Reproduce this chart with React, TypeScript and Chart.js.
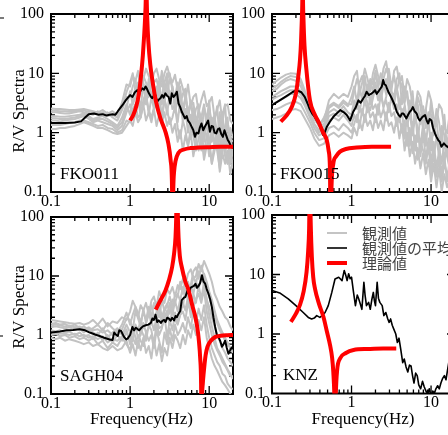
import React, { useEffect, useRef } from "react";
import { Chart, registerables } from "chart.js";

Chart.register(...registerables);

const SERIF = "'Liberation Serif', 'Times New Roman', 'DejaVu Serif', serif";
const CJK = "'Noto Sans CJK JP', 'Noto Sans', sans-serif";

// ---- axes / text ----
const X_MAJOR = [0.1, 1, 10];
const X_MAJOR_LABELS = ["0.1", "1", "10"];
const X_MINOR = [0.2, 0.3, 0.4, 0.5, 0.6, 0.7, 0.8, 0.9, 2, 3, 4, 5, 6, 7, 8, 9, 20];
const Y_MAJOR = [0.1, 1, 10, 100];
const Y_MAJOR_LABELS = ["0.1", "1", "10", "100"];
const Y_MINOR = [0.2, 0.3, 0.4, 0.5, 0.6, 0.7, 0.8, 0.9, 2, 3, 4, 5, 6, 7, 8, 9, 20, 30, 40, 50, 60, 70, 80, 90];
const X_TITLE = "Frequency(Hz)";
const Y_TITLE = "R/V Spectra";
const LEGEND_LABELS = ["観測値", "観測値の平均", "理論値"];
const STATIONS = ["FKO011", "FKO015", "SAGH04", "KNZ"];

// ---- shared frequency grid of the observed spectra ----
const FREQ = [0.1, 0.115, 0.13, 0.15, 0.17, 0.2, 0.23, 0.26, 0.3, 0.34, 0.39, 0.45, 0.52, 0.6, 0.69, 0.79, 0.9,
  1.0, 1.08, 1.17, 1.26, 1.36, 1.47, 1.59, 1.72, 1.86, 2.0, 2.16, 2.33, 2.52, 2.72, 2.94, 3.17, 3.43, 3.7,
  4.0, 4.3, 4.65, 5.0, 5.4, 5.85, 6.3, 6.8, 7.35, 7.95, 8.6, 9.3, 10, 10.8, 11.7, 12.6, 13.6, 14.7, 15.9, 17.1, 18.5, 20];

// ---- FKO011 ----
const P1_OBS = [
  [2.55, 2.5, 2.5, 2.45, 2.4, 2.4, 2.45, 2.5, 2.4, 2.3, 2.2, 2.4, 2.1, 2.3, 2.0, 3.2, 6.5,
    6, 9, 7.5, 11, 5, 8, 12, 9, 6.5, 10, 12, 8, 6, 10, 13, 9, 7, 9.5, 5, 8, 5.5, 3.5, 6.5, 2.8, 4, 4.5, 2.2, 3.5, 5, 2.8, 3.2, 4, 1.8, 2.4, 3.5, 1.5, 2.8, 3, 1.6, 1.4],
  [2.2, 2.2, 2.15, 2.1, 2.1, 2.2, 2.3, 2.2, 2.1, 2.0, 2.3, 2.0, 2.2, 1.8, 1.6, 2.4, 4.0,
    4, 6, 8, 3.5, 5, 9, 7, 4, 8, 5.5, 4, 6, 9, 3.5, 8, 10, 5, 4, 7, 3, 4.5, 5.5, 2, 3.5, 1.5, 2.5, 3, 0.8, 2.8, 1.6, 3.5, 0.9, 1.5, 2.8, 0.7, 2, 3, 0.6, 1.2, 0.8],
  [1.9, 1.9, 1.85, 1.85, 1.9, 1.95, 2.0, 2.1, 1.9, 1.7, 1.8, 1.9, 1.7, 1.5, 1.3, 1.8, 3.0,
    2, 3.5, 6, 4.5, 2.5, 7, 3, 5, 9, 3, 6, 2.5, 4, 7, 10, 3, 6, 2.2, 3.5, 6, 2, 3.8, 2.5, 1.2, 2.8, 1, 2.2, 1.4, 0.7, 2, 0.5, 1.8, 1.2, 0.6, 2.2, 0.45, 1.3, 1.8, 0.3, 0.5],
  [1.6, 1.6, 1.55, 1.6, 1.65, 1.7, 1.8, 1.9, 1.7, 1.5, 1.6, 1.5, 1.4, 1.3, 1.1, 1.3, 2.2,
    3, 2, 2.6, 4, 1.8, 3.5, 5, 2, 4, 2.5, 3.5, 5, 1.8, 4, 2, 5, 2.5, 3, 1.5, 3.5, 1.5, 2.5, 1, 2, 1.4, 0.7, 1.6, 0.5, 1.2, 0.9, 0.4, 1.5, 0.6, 1.2, 0.35, 1, 0.6, 0.3, 0.9, 0.4],
  [1.35, 1.35, 1.35, 1.4, 1.45, 1.5, 1.6, 1.6, 1.5, 1.4, 1.3, 1.35, 1.2, 1.15, 1.0, 1.1, 1.6,
    1.5, 2.5, 3, 1.8, 2, 2.8, 4, 2.4, 1.8, 2.6, 3, 2, 1.6, 3.5, 2.5, 1.4, 1.8, 2.8, 1.2, 0.8, 1.6, 1.1, 0.6, 1.2, 0.9, 0.5, 0.8, 1.2, 0.45, 0.9, 0.6, 0.3, 0.7, 0.5, 0.25, 0.9, 0.4, 0.3, 0.6, 0.25],
  [1.15, 1.15, 1.2, 1.2, 1.25, 1.3, 1.4, 1.5, 1.4, 1.3, 1.2, 1.2, 1.1, 1.0, 0.95, 1.0, 1.3,
    1.6, 1.3, 2.2, 1.5, 1.8, 3, 1.6, 2.2, 1.5, 2.5, 1.3, 2, 1.4, 2.2, 1.3, 1.8, 1.0, 1.4, 0.7, 1.1, 0.5, 0.9, 0.6, 1.0, 0.4, 0.7, 0.5, 0.9, 0.35, 0.6, 0.8, 0.3, 0.5, 0.7, 0.22, 0.45, 0.3, 0.5, 0.2, 0.35],
  [1.75, 1.75, 1.7, 1.7, 1.75, 1.8, 1.9, 2.0, 1.8, 1.6, 1.7, 1.7, 1.55, 1.4, 1.2, 1.5, 2.6,
    5, 3, 4, 7, 4.5, 6, 3.5, 8, 4, 6, 5, 7.5, 3, 5, 8, 4, 5.5, 3, 4.5, 2.2, 3, 1.8, 2.6, 1.3, 2, 1.6, 1, 1.8, 0.8, 1.4, 1.8, 0.7, 1.2, 1, 0.45, 1.6, 0.5, 0.8, 0.4, 0.45],
  [2.35, 2.35, 2.3, 2.3, 2.25, 2.3, 2.35, 2.35, 2.25, 2.15, 2.05, 2.2, 1.9, 2.0, 1.8, 2.6, 4.8,
    7, 10, 5, 6, 9, 6.5, 4.5, 7, 11, 7, 8, 5, 11, 6, 4.5, 8, 6, 3.5, 6, 4.5, 2.5, 4, 2, 2.8, 3.2, 1.5, 2.4, 1.8, 3, 1.2, 2.6, 1.4, 2, 0.9, 1.6, 2.2, 0.7, 1.5, 0.8, 0.7],
];
const P1_MEAN_F = [0.1, 0.15, 0.2, 0.24, 0.27, 0.3, 0.35, 0.4, 0.45, 0.5, 0.55, 0.6, 0.65, 0.7, 0.8, 0.88, 1.0, 1.07, 1.15, 1.23,
  1.3, 1.42, 1.5, 1.57, 1.62, 1.73, 1.82, 1.9, 2.0, 2.09, 2.19, 2.3, 2.42, 2.54, 2.65, 2.79, 2.93, 3.07, 3.22, 3.37,
  3.55, 3.71, 3.9, 4.1, 4.3, 4.5, 4.7, 4.94, 5.2, 5.4, 5.7, 6.0, 6.3, 6.6, 6.9, 7.3, 7.6, 8.0, 8.4, 8.8,
  9.2, 9.7, 10.2, 10.7, 11.2, 11.7, 12.3, 12.9, 13.5, 14.2, 14.9, 15.6, 16.4, 17.2, 18, 18.9, 20];
const P1_MEAN_V = [1.45, 1.45, 1.48, 1.55, 1.8, 2.05, 2.1, 2.0, 2.05, 1.95, 2.0, 2.05, 2.0, 2.3, 2.9, 3.5, 4.3, 4.0, 4.8, 5.2,
  4.6, 5.6, 5.3, 6.0, 5.6, 4.6, 4.1, 3.8, 4.2, 4.3, 3.3, 3.6, 3.8, 4.3, 3.9, 4.6, 4.2, 4.0, 3.1, 4.6,
  4.0, 4.3, 4.9, 3.1, 2.7, 2.25, 2.0, 1.74, 1.9, 1.6, 1.45, 1.26, 1.1, 0.85, 1.0, 0.97, 1.2, 1.43, 1.1, 1.26,
  1.4, 1.6, 1.04, 1.3, 1.26, 1.0, 0.97, 1.15, 1.18, 0.95, 0.85, 1.1, 0.9, 0.75, 0.68, 0.58, 0.55];
const P1_THEO_F = [1.0, 1.1, 1.19, 1.28, 1.37, 1.45, 1.5, 1.55, 1.58, 1.6, 1.62, 1.65, 1.7, 1.8, 1.95, 2.11, 2.4, 2.82, 3.05, 3.25,
  3.38, 3.45, 3.52, 3.6, 3.75, 4.1, 4.8, 5.8, 7.3, 10, 14, 20];
const P1_THEO_V = [1.6, 2.0, 2.7, 4.2, 8.7, 20, 40, 90, 200, 1000, 200, 80, 35, 14, 6.5, 3.5, 1.8, 1.0, 0.65, 0.35,
  0.15, 0.02, 0.12, 0.22, 0.33, 0.46, 0.52, 0.55, 0.56, 0.57, 0.58, 0.58];

// ---- FKO015 ----
const P2_OBS = [
  [6.5, 7.5, 8.5, 9.5, 10, 9.8, 8, 5, 3, 2, 1.4, 1.6, 3.5, 4.5, 3.8, 4.5, 4,
    6, 9, 11, 4.5, 7, 12, 8, 5, 10, 14, 9, 6, 12, 16, 8, 5, 11, 13, 7, 9, 4, 8, 6, 3, 2.5, 5, 4, 2, 2.5, 5, 3.5, 1.8, 1.5, 3, 2.5, 1.2, 1, 2, 1.5, 0.8],
  [5, 5.5, 6.5, 7.5, 8, 7.5, 6, 4, 2.5, 1.7, 1.3, 1.8, 2.8, 3.2, 2.8, 3.5, 3,
    3, 5, 8, 6, 3.5, 9, 4, 7, 5, 10, 6, 4, 8, 12, 9, 5, 4, 8, 10, 3, 6, 4, 2, 5, 1.5, 4, 2.8, 1.2, 2.5, 1.2, 3.5, 1, 2.5, 1.5, 0.7, 2, 0.5, 1.5, 0.4, 0.8],
  [4, 4.5, 5, 5.5, 6, 6, 5, 3.5, 2.2, 1.4, 1.1, 1.3, 2.2, 2.5, 2.2, 2.8, 2.2,
    2, 3.5, 2.5, 5, 4, 3, 6.5, 3, 5, 7, 4, 3.5, 6, 8, 5, 4, 3.5, 6, 2.5, 4.5, 3, 1.5, 3.5, 1, 2.5, 0.7, 2, 1.2, 0.6, 1.8, 0.5, 1.5, 0.8, 0.4, 1.2, 0.3, 0.8, 0.6, 0.2, 0.4],
  [3, 3.3, 3.6, 4, 4.5, 4.5, 3.8, 2.8, 1.8, 1.2, 0.9, 1.0, 1.6, 1.8, 1.6, 2.0, 1.6,
    1.3, 2, 1.5, 2.8, 2, 3.5, 2.2, 4, 2.5, 3, 2, 4.5, 2.8, 3.5, 2.2, 4, 2.5, 3, 1.5, 2.5, 0.8, 2, 0.6, 1.5, 0.5, 1.2, 0.4, 1, 0.35, 0.8, 0.3, 0.7, 0.25, 0.5, 0.2, 0.4, 0.15, 0.35, 0.2, 0.25],
  [2.4, 2.5, 2.7, 3, 3.2, 3.3, 3, 2.2, 1.5, 1.0, 0.75, 0.8, 1.2, 1.3, 1.1, 1.4, 1.2,
    1, 1.4, 2, 1.2, 2.5, 1.5, 3, 1.8, 2.2, 1.5, 3, 1.8, 2.5, 1.6, 3.2, 1.9, 2.2, 1.3, 2, 1, 1.6, 0.6, 1.2, 0.45, 0.9, 0.35, 0.7, 0.5, 0.3, 0.6, 0.2, 0.45, 0.18, 0.35, 0.15, 0.3, 0.2, 0.25, 0.15, 0.2],
  [1.7, 1.8, 1.9, 2.1, 2.4, 2.5, 2.3, 1.7, 1.2, 0.8, 0.6, 0.65, 0.9, 1.0, 0.85, 1.0, 0.9,
    0.8, 1.2, 0.9, 1.6, 1.1, 2, 1.3, 1.6, 1.1, 2, 1.2, 1.6, 1.1, 2.2, 1.3, 1.5, 1, 1.8, 0.8, 1.4, 0.5, 1, 0.4, 0.7, 0.3, 0.55, 0.25, 0.45, 0.2, 0.35, 0.15, 0.3, 0.12, 0.25, 0.1, 0.2, 0.12, 0.16, 0.1, 0.14],
  [3.6, 4, 4.3, 4.8, 5.2, 5.2, 4.4, 3.2, 2.1, 1.4, 1.0, 1.15, 1.9, 2.1, 1.9, 2.4, 1.9,
    1.8, 2.6, 3.5, 2.2, 4, 5, 3, 2.4, 3.8, 6, 3.5, 5, 2.6, 4, 7, 4.5, 3, 5.5, 3.5, 2, 2.8, 1.3, 2.2, 0.9, 1.8, 1.2, 0.6, 1.4, 0.8, 0.5, 1.0, 0.4, 0.8, 0.6, 0.3, 0.7, 0.4, 0.25, 0.5, 0.3],
  [5.5, 6.2, 7.2, 8.2, 9, 8.7, 7, 4.5, 2.8, 1.8, 1.3, 1.4, 2.6, 3, 2.6, 3.2, 2.8,
    4, 6, 3.2, 7, 9, 5, 4, 8, 6.5, 11, 6, 10, 7, 4.5, 12, 6, 9, 5, 8, 6, 3.2, 5, 2.2, 3.5, 1.8, 3, 1.4, 2.8, 1.2, 2.2, 2, 0.9, 1.7, 0.6, 1.3, 0.9, 0.4, 1, 0.5, 0.4],
];
const P2_MEAN_F = [0.1, 0.125, 0.159, 0.18, 0.203, 0.234, 0.258, 0.28, 0.298, 0.32, 0.345, 0.37, 0.399, 0.42, 0.44, 0.46, 0.49, 0.53, 0.59, 0.65,
  0.72, 0.8, 0.87, 0.96, 1.05, 1.12, 1.22, 1.3, 1.41, 1.48, 1.55, 1.65, 1.8, 1.9, 1.98, 2.07, 2.17, 2.3, 2.4, 2.5,
  2.6, 2.7, 2.8, 2.9, 3.05, 3.2, 3.35, 3.5, 3.7, 3.9, 4.1, 4.3, 4.5, 4.7, 4.9, 5.15, 5.4, 5.65, 5.9, 6.2,
  6.6, 6.9, 7.2, 7.8, 8.4, 8.8, 9.2, 9.6, 10.1, 10.6, 11.2, 11.7, 12.3, 12.9, 13.5, 14.5, 15.5, 17, 18.5, 20];
const P2_MEAN_V = [2.9, 3.5, 4.3, 4.8, 5.2, 4.8, 4.0, 3.1, 2.5, 2.1, 1.84, 1.55, 1.33, 1.1, 0.91, 1.0, 1.26, 1.5, 1.85, 2.1,
  2.4, 2.2, 1.98, 1.6, 2.25, 2.6, 3.5, 3.2, 3.8, 4.2, 4.9, 4.3, 4.6, 4.9, 5.2, 4.5, 4.9, 5.5, 5.95, 7.7,
  6.5, 6.3, 5.5, 4.9, 4.3, 3.8, 3.3, 2.9, 2.25, 2.0, 1.85, 2.1, 2.1, 1.9, 1.74, 2.0, 2.25, 2.4, 2.7, 2.3,
  2.1, 1.75, 1.6, 1.85, 1.98, 1.6, 1.43, 1.7, 1.6, 1.2, 0.97, 0.85, 0.75, 0.7, 0.58, 0.66, 0.6, 0.55, 0.6, 0.58];
const P2_THEO_F = [0.129, 0.15, 0.177, 0.2, 0.214, 0.225, 0.232, 0.237, 0.241, 0.243, 0.245, 0.249, 0.256, 0.27, 0.3,
  0.34, 0.383, 0.44, 0.488, 0.515, 0.535, 0.547, 0.56, 0.59, 0.64, 0.716, 0.85, 1.16, 1.8, 3.14];
const P2_THEO_V = [1.53, 1.9, 2.7, 4.6, 8.8, 17, 35, 80, 200, 1000, 200, 80, 30, 12, 3.5,
  2.1, 1.53, 1.0, 0.75, 0.5, 0.25, 0.02, 0.12, 0.3, 0.4, 0.48, 0.53, 0.56, 0.58, 0.58];

// ---- SAGH04 ----
const P3_OBS = [
  [1.8, 1.75, 1.7, 1.65, 1.6, 1.55, 1.6, 1.5, 1.6, 1.8, 1.5, 1.9, 1.4, 1.7, 1.6, 2.0, 1.8,
    2.5, 3.8, 3, 2, 3.2, 2.6, 3.5, 2.2, 3.8, 4.5, 3, 5.5, 4, 3.5, 6, 5, 6.5, 4.5, 7, 6, 9, 7, 11, 13, 9, 10, 16, 12, 18, 14, 11, 8, 5, 4, 3, 2.5, 2, 1.8, 1.4, 1.2],
  [1.55, 1.6, 1.5, 1.55, 1.4, 1.5, 1.3, 1.4, 1.2, 1.3, 1.5, 1.2, 1.6, 1.3, 1.1, 1.5, 2.4,
    1.5, 2.2, 3, 2.4, 1.6, 2.5, 1.8, 3, 2, 3.5, 2.6, 2, 4, 2.5, 3.2, 4.5, 2.8, 5, 4.5, 8, 5, 9, 6, 7, 12, 14, 9, 15, 10, 6, 4.5, 3, 2, 1.6, 1.2, 1, 0.8, 0.7, 0.6, 0.5],
  [1.35, 1.4, 1.35, 1.3, 1.35, 1.25, 1.3, 1.1, 1.3, 1.1, 1.0, 1.3, 0.9, 1.1, 1.3, 1.0, 1.5,
    1.1, 0.8, 1.5, 1.2, 1.8, 1.3, 1.6, 2.5, 1.5, 2.2, 1.7, 2.8, 1.6, 2.4, 2, 3.5, 2.2, 3.8, 2.5, 4, 3, 6, 4, 7, 5, 8, 6, 10, 7, 4, 3, 2, 1.4, 1, 0.8, 0.6, 0.5, 0.4, 0.35, 0.3],
  [1.2, 1.15, 1.2, 1.1, 1.15, 1.0, 1.1, 0.95, 1.0, 0.85, 1.1, 0.8, 1.0, 0.75, 1.0, 0.8, 1.1,
    0.8, 1.2, 1.4, 0.9, 1, 1.6, 1.1, 1.3, 1.8, 1.2, 2, 1.3, 1.4, 1.9, 2.6, 1.5, 2.8, 1.8, 1.5, 2.2, 2.5, 1.8, 3.5, 2.5, 3, 4, 5, 3.5, 6, 2.5, 1.6, 1, 0.7, 0.55, 0.45, 0.35, 0.3, 0.25, 0.2, 0.2],
  [1.0, 1.05, 0.95, 1.0, 0.9, 0.95, 0.85, 0.9, 0.8, 0.9, 0.7, 0.8, 0.6, 0.75, 0.65, 0.9, 0.7,
    0.55, 0.9, 0.7, 1, 0.8, 0.65, 1.1, 0.8, 1, 0.6, 1.2, 0.8, 0.5, 1.1, 0.7, 1.3, 0.8, 1.5, 1, 1.2, 1.6, 1.1, 2, 1.3, 2.5, 1.6, 2.8, 1.8, 3.2, 1.5, 0.9, 0.6, 0.45, 0.35, 0.3, 0.22, 0.2, 0.15, 0.13, 0.12],
  [0.9, 0.85, 0.9, 0.8, 0.85, 0.8, 0.75, 0.7, 0.75, 0.65, 0.7, 0.6, 0.55, 0.65, 0.55, 0.6, 0.8,
    0.5, 0.7, 0.45, 0.8, 0.55, 0.9, 0.5, 0.65, 0.4, 0.85, 0.45, 0.7, 0.36, 0.6, 0.45, 0.9, 0.6, 1, 0.8, 0.6, 1, 0.7, 1.2, 0.9, 1.5, 1, 1.8, 1.2, 2, 0.9, 0.6, 0.4, 0.3, 0.25, 0.2, 0.16, 0.14, 0.12, 0.1, 0.09],
  [1.45, 1.5, 1.45, 1.4, 1.45, 1.35, 1.4, 1.25, 1.35, 1.2, 1.25, 1.1, 1.2, 1.0, 1.2, 1.25, 1.9,
    1.8, 1.2, 2.6, 1.9, 1.4, 2.8, 1.6, 2.2, 3.2, 2, 2.4, 3.6, 2, 2.8, 3.4, 2.3, 4, 3.5, 5, 3.8, 6.5, 4.5, 8, 5.5, 10, 7.5, 12, 9, 11, 8, 5.5, 4, 2.6, 1.8, 1.4, 1.1, 0.9, 0.75, 0.6, 0.5],
  [1.1, 1.1, 1.05, 1.05, 1.0, 1.05, 0.95, 1.0, 0.9, 0.95, 0.85, 0.95, 0.75, 0.85, 0.8, 0.95, 1.25,
    0.7, 1.4, 0.9, 0.6, 1.3, 1.0, 0.8, 1.5, 1.2, 0.7, 1.6, 1.0, 1.3, 2.2, 0.9, 1.8, 1.2, 2.4, 1.6, 2.2, 3.5, 2.6, 4.5, 2, 5, 3.5, 7, 4, 8, 4, 2.2, 1.4, 0.9, 0.6, 0.5, 0.4, 0.32, 0.26, 0.22, 0.18],
];
const P3_MEAN_F = [0.1, 0.13, 0.157, 0.19, 0.23, 0.27, 0.31, 0.36, 0.41, 0.47, 0.55, 0.6, 0.63, 0.67, 0.7, 0.73, 0.77, 0.83, 0.89, 0.93,
  1.0, 1.07, 1.12, 1.18, 1.25, 1.3, 1.37, 1.45, 1.58, 1.7, 1.83, 1.91, 2.0, 2.1, 2.2, 2.3, 2.45, 2.56, 2.7, 2.8,
  2.95, 3.1, 3.25, 3.4, 3.6, 3.75, 3.9, 4.1, 4.3, 4.5, 4.8, 5.0, 5.3, 5.5, 5.8, 6.0, 6.4, 6.7, 7.0, 7.4,
  7.7, 8.1, 8.5, 8.9, 9.3, 9.8, 10.3, 10.8, 11.3, 11.9, 12.5, 13.1, 13.8, 14.5, 15.2, 15.9, 16.7, 17.5, 18.4, 19.2, 20];
const P3_MEAN_V = [1.1, 1.15, 1.2, 1.22, 1.25, 1.2, 1.1, 1.02, 0.96, 0.9, 0.84, 0.82, 1.1, 1.0, 0.96, 1.2, 1.17, 0.95, 0.84, 0.87,
  1.0, 1.37, 1.2, 1.33, 1.25, 1.2, 1.3, 1.4, 1.46, 1.5, 1.6, 1.9, 1.8, 2.2, 1.66, 1.77, 1.6, 1.73, 1.8, 1.66,
  1.96, 1.9, 1.75, 1.96, 1.77, 2.1, 2.0, 2.3, 2.55, 3.9, 4.3, 4.4, 5.6, 5.0, 6.3, 6.5, 6.8, 7.4, 6.3, 6.9,
  7.7, 10.3, 8.0, 7.4, 6.0, 5.0, 4.0, 3.0, 2.0, 1.37, 1.0, 0.93, 0.79, 0.63, 0.7, 0.8, 0.6, 0.48, 0.55, 0.61, 0.63];
const P3_THEO_F = [2.11, 2.4, 2.8, 3.1, 3.4, 3.6, 3.75, 3.83, 3.88, 3.92, 3.96, 4.02, 4.1, 4.25, 4.5, 5.0, 5.5, 6.1, 6.7, 7.1,
  7.4, 7.7, 7.9, 8.0, 8.1, 8.3, 8.5, 9.0, 9.5, 10.5, 12, 14, 17, 20];
const P3_THEO_V = [2.7, 3.8, 5.7, 8.5, 14.2, 24, 45, 100, 300, 1000, 300, 100, 45, 22, 14.2, 8.0, 5.7, 3.2, 2.0, 1.3,
  0.81, 0.4, 0.15, 0.02, 0.08, 0.15, 0.22, 0.45, 0.63, 0.8, 0.93, 0.97, 0.99, 1.0];

// ---- KNZ ----
const P4_MEAN_F = [0.1, 0.125, 0.16, 0.2, 0.247, 0.286, 0.315, 0.34, 0.365, 0.4, 0.43, 0.465, 0.51, 0.565, 0.62, 0.69, 0.76, 0.81, 0.85, 0.88,
  0.92, 0.96, 1.0, 1.06, 1.12, 1.18, 1.23, 1.29, 1.35, 1.43, 1.48, 1.54, 1.64, 1.72, 1.8, 1.88, 1.94, 2.0, 2.1, 2.18,
  2.27, 2.43, 2.55, 2.7, 2.85, 2.97, 3.1, 3.25, 3.4, 3.6, 3.77, 3.95, 4.15, 4.4, 4.6, 4.85, 5.1, 5.35, 5.6, 5.85,
  6.1, 6.4, 6.7, 7.0, 7.4, 7.8, 8.2, 8.6, 9.1, 9.5, 10, 10.5, 11, 11.5, 12.1, 12.7, 13.3, 14, 14.7, 15.4, 16.2, 17, 18, 19, 20];
const P4_MEAN_V = [5.4, 4.9, 3.9, 3.0, 2.3, 1.9, 1.79, 1.85, 2.04, 1.9, 2.05, 2.3, 3.0, 5.0, 8.4, 9.0, 7.9, 11.7, 9.5, 7.9,
  10.3, 8.5, 9.0, 5.0, 3.0, 4.5, 3.9, 3.2, 2.6, 7.4, 4.5, 3.0, 3.4, 2.6, 3.8, 5.0, 3.6, 3.0, 7.4, 4.0,
  3.4, 3.0, 2.04, 2.3, 1.8, 1.57, 1.79, 1.4, 1.21, 1.0, 0.72, 0.85, 0.56, 0.33, 0.38, 0.28, 0.23, 0.3, 0.29, 0.2,
  0.15, 0.22, 0.2, 0.14, 0.12, 0.16, 0.13, 0.11, 0.1, 0.12, 0.09, 0.11, 0.1, 0.12, 0.135, 0.12, 0.15, 0.18, 0.2, 0.17, 0.26, 0.38, 0.35, 0.45, 0.5];
const P4_THEO_F = [0.173, 0.2, 0.224, 0.25, 0.272, 0.285, 0.293, 0.297, 0.3, 0.303, 0.308, 0.317, 0.33, 0.347, 0.39,
  0.443, 0.49, 0.537, 0.57, 0.59, 0.61, 0.62, 0.635, 0.66, 0.72, 0.85, 1.06, 1.6, 2.5, 3.65];
const P4_THEO_V = [1.6, 2.2, 3.05, 5.2, 11, 25, 60, 200, 1000, 200, 60, 20, 9, 5.8, 3.2,
  1.95, 1.1, 0.65, 0.4, 0.23, 0.08, 0.02, 0.1, 0.25, 0.39, 0.48, 0.54, 0.56, 0.57, 0.57];

type Spec = {
  key: string;
  left: number; top: number; w: number; h: number;
  yW: number; xH: number; padTop: number; padRight: number;
  name: string; nameDx: number; nameY: number;
  obs: number[][] | null;
  meanF: number[]; meanV: number[]; meanW: number;
  theoF: number[]; theoV: number[]; theoClipTop: number;
  yTitle: null | { x: number; y: number };
  xTitleY: number | null;
  legend: boolean;
  dash: null | { y: number; len: number };
};

const SPECS: Spec[] = [
  { key: "p1", left: 0, top: 0, w: 240, h: 215, yW: 51, xH: 23, padTop: 14, padRight: 7,
    name: STATIONS[0], nameDx: 9, nameY: 175, obs: P1_OBS, meanF: P1_MEAN_F, meanV: P1_MEAN_V, meanW: 2,
    theoF: P1_THEO_F, theoV: P1_THEO_V, theoClipTop: 14, yTitle: { x: 24, y: 111 }, xTitleY: null, legend: false,
    dash: { y: 18, len: 4 } },
  { key: "p2", left: 230, top: 0, w: 240, h: 215, yW: 42, xH: 23, padTop: 14, padRight: 15,
    name: STATIONS[1], nameDx: 8, nameY: 175, obs: P2_OBS, meanF: P2_MEAN_F, meanV: P2_MEAN_V, meanW: 2,
    theoF: P2_THEO_F, theoV: P2_THEO_V, theoClipTop: 14, yTitle: null, xTitleY: null, legend: false, dash: null },
  { key: "p3", left: 0, top: 205, w: 240, h: 230, yW: 51, xH: 41, padTop: 12, padRight: 7,
    name: STATIONS[2], nameDx: 9, nameY: 172, obs: P3_OBS, meanF: P3_MEAN_F, meanV: P3_MEAN_V, meanW: 2,
    theoF: P3_THEO_F, theoV: P3_THEO_V, theoClipTop: 4, yTitle: { x: 24, y: 102 }, xTitleY: 219, legend: false,
    dash: { y: 131, len: 3 } },
  { key: "p4", left: 230, top: 205, w: 240, h: 230, yW: 42, xH: 41.5, padTop: 10, padRight: 15,
    name: STATIONS[3], nameDx: 11, nameY: 171, obs: null, meanF: P4_MEAN_F, meanV: P4_MEAN_V, meanW: 1.6,
    theoF: P4_THEO_F, theoV: P4_THEO_V, theoClipTop: 1, yTitle: null, xTitleY: 219, legend: true, dash: null },
];

function pts(f: number[], v: number[]) {
  return f.map((x, i) => ({ x, y: v[i] }));
}

function labelFor(v: number, majors: number[], labels: string[]) {
  const i = majors.findIndex((m) => Math.abs(v / m - 1) < 1e-6);
  return i >= 0 ? labels[i] : "";
}

function framePlugin(s: Spec) {
  return {
    id: "frame_" + s.key,
    beforeDatasetsDraw(chart: any) {
      const { ctx, chartArea } = chart;
      const { left, right, top, bottom } = chartArea;
      const xs = chart.scales.x;
      const ys = chart.scales.y;
      ctx.save();
      ctx.strokeStyle = "#000";
      ctx.lineWidth = 1.3;
      ctx.beginPath();
      const xt = (vals: number[], len: number) =>
        vals.forEach((v) => {
          const px = xs.getPixelForValue(v);
          if (px <= left + 1 || px >= right - 1) return;
          ctx.moveTo(px, bottom); ctx.lineTo(px, bottom - len);
          ctx.moveTo(px, top); ctx.lineTo(px, top + len);
        });
      const yt = (vals: number[], len: number) =>
        vals.forEach((v) => {
          const py = ys.getPixelForValue(v);
          if (py <= top + 1 || py >= bottom - 1) return;
          ctx.moveTo(left, py); ctx.lineTo(left + len, py);
          ctx.moveTo(right, py); ctx.lineTo(right - len, py);
        });
      xt(X_MAJOR, 8); xt(X_MINOR, 4);
      yt(Y_MAJOR, 8); yt(Y_MINOR, 4);
      ctx.stroke();
      ctx.lineWidth = 2;
      ctx.strokeRect(left, top, right - left, bottom - top);
      ctx.restore();
    },
    afterDatasetsDraw(chart: any) {
      const { ctx, chartArea } = chart;
      const { left, right } = chartArea;
      ctx.save();
      ctx.fillStyle = "#000";
      ctx.font = `17px ${SERIF}`;
      ctx.textAlign = "left";
      ctx.textBaseline = "middle";
      ctx.fillText(s.name, left + s.nameDx, s.nameY);
      if (s.xTitleY !== null) {
        ctx.textAlign = "center";
        ctx.textBaseline = "alphabetic";
        ctx.fillText(X_TITLE, (left + right) / 2 - 0.5, s.xTitleY);
      }
      if (s.yTitle) {
        ctx.save();
        ctx.translate(s.yTitle.x, s.yTitle.y);
        ctx.rotate(-Math.PI / 2);
        ctx.textAlign = "center";
        ctx.textBaseline = "alphabetic";
        ctx.fillText(Y_TITLE, 0, 0);
        ctx.restore();
      }
      if (s.dash) {
        ctx.strokeStyle = "#222";
        ctx.lineWidth = 1.2;
        ctx.beginPath();
        ctx.moveTo(0, s.dash.y);
        ctx.lineTo(s.dash.len, s.dash.y);
        ctx.stroke();
      }
      if (s.legend) {
        const items = [
          { c: "#c4c4c4", w: 2, y: 28 },
          { c: "#000000", w: 1.6, y: 43 },
          { c: "#ff0000", w: 4, y: 58 },
        ];
        items.forEach((it, i) => {
          ctx.strokeStyle = it.c;
          ctx.lineWidth = it.w;
          ctx.beginPath();
          ctx.moveTo(97, it.y);
          ctx.lineTo(117, it.y);
          ctx.stroke();
          ctx.fillStyle = "#444";
          ctx.font = `15px ${CJK}`;
          ctx.textAlign = "left";
          ctx.textBaseline = "middle";
          ctx.fillText(LEGEND_LABELS[i], 132, it.y);
        });
      }
      ctx.restore();
    },
  };
}

function buildConfig(s: Spec): any {
  const datasets: any[] = [];
  datasets.push({
    data: pts(s.theoF, s.theoV),
    borderColor: "#ff0000",
    borderWidth: 4,
    pointRadius: 0,
    cubicInterpolationMode: "monotone",
    borderJoinStyle: "round",
    clip: { left: 0, right: 0, top: s.theoClipTop, bottom: 0 },
  });
  datasets.push({
    data: pts(s.meanF, s.meanV),
    borderColor: "#000000",
    borderWidth: s.meanW,
    pointRadius: 0,
    tension: 0,
    borderJoinStyle: "round",
  });
  if (s.obs) {
    s.obs.forEach((vals) =>
      datasets.push({
        data: pts(FREQ, vals),
        borderColor: "#c2c2c2",
        borderWidth: 2,
        pointRadius: 0,
        tension: 0,
        borderJoinStyle: "round",
      })
    );
  }
  const tickFont = { family: SERIF, size: 16 };
  return {
    type: "line",
    data: { datasets },
    options: {
      responsive: false,
      animation: false,
      devicePixelRatio: 1,
      events: [],
      layout: { padding: { top: s.padTop, right: s.padRight, left: 0, bottom: 0 } },
      plugins: { legend: { display: false }, tooltip: { enabled: false } },
      scales: {
        x: {
          type: "logarithmic",
          min: 0.1,
          max: 20,
          grid: { display: false, drawTicks: false },
          border: { display: false },
          ticks: {
            autoSkip: false,
            maxRotation: 0,
            minRotation: 0,
            padding: 0,
            color: "#000",
            font: tickFont,
            callback: (v: any) => labelFor(Number(v), X_MAJOR, X_MAJOR_LABELS),
          },
          afterFit: (sc: any) => {
            sc.height = s.xH;
            sc.paddingLeft = 0;
            sc.paddingRight = 0;
          },
        },
        y: {
          type: "logarithmic",
          min: 0.1,
          max: 100,
          grid: { display: false, drawTicks: false },
          border: { display: false },
          ticks: {
            autoSkip: false,
            padding: 7,
            color: "#000",
            font: tickFont,
            callback: (v: any) => labelFor(Number(v), Y_MAJOR, Y_MAJOR_LABELS),
          },
          afterFit: (sc: any) => {
            sc.width = s.yW;
            sc.paddingTop = 0;
            sc.paddingBottom = 0;
          },
        },
      },
    },
    plugins: [framePlugin(s)],
  };
}

function Panel({ spec }: { spec: Spec }) {
  const ref = useRef<HTMLCanvasElement>(null);
  useEffect(() => {
    if (!ref.current) return;
    const chart = new Chart(ref.current, buildConfig(spec));
    return () => chart.destroy();
  }, [spec]);
  return (
    <canvas
      ref={ref}
      width={spec.w}
      height={spec.h}
      style={{ position: "absolute", left: spec.left, top: spec.top, width: spec.w, height: spec.h }}
    />
  );
}

export default function App() {
  return (
    <div
      style={{
        position: "fixed",
        left: 0,
        top: 0,
        width: 448,
        height: 435,
        overflow: "hidden",
        background: "#fff",
      }}
    >
      {SPECS.map((s) => (
        <Panel key={s.key} spec={s} />
      ))}
    </div>
  );
}
